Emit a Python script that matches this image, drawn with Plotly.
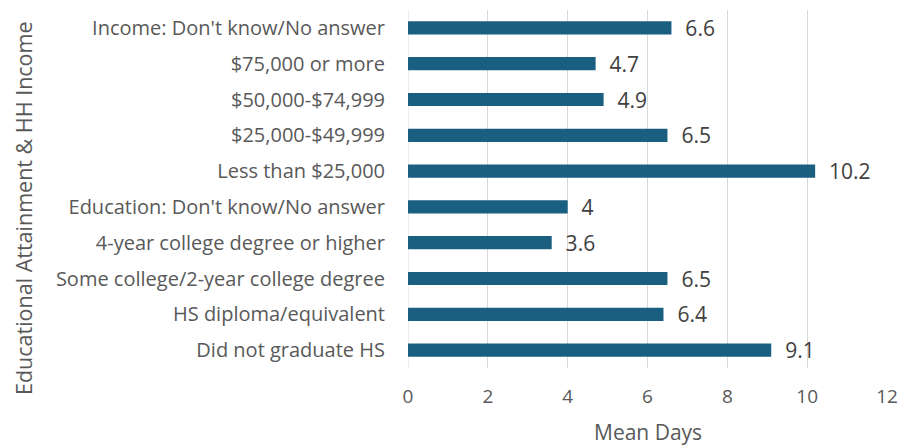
import plotly.graph_objects as go

categories = [
    "Did not graduate HS",
    "HS diploma/equivalent",
    "Some college/2-year college degree",
    "4-year college degree or higher",
    "Education: Don't know/No answer",
    "Less than $25,000",
    "$25,000-$49,999",
    "$50,000-$74,999",
    "$75,000 or more",
    "Income: Don't know/No answer",
]
values = [9.1, 6.4, 6.5, 3.6, 4, 10.2, 6.5, 4.9, 4.7, 6.6]
x_ticks = [0, 2, 4, 6, 8, 10, 12]

FONT = "Open Sans"
GRAY = "#595959"
W, H = 911, 448
L, R, T, B = 408, 24, 10, 80

fig = go.Figure()
fig.add_trace(go.Bar(
    x=values, y=categories, orientation="h",
    marker=dict(color="#1a5f80", line=dict(width=0)),
    text=[f"{v:g}" for v in values],
    texttemplate="  %{text}",
    textposition="outside",
    constraintext="none",
    textfont=dict(family=FONT, size=21, color="#404040"),
    cliponaxis=False,
    width=0.37,
))

fig.update_layout(
    width=W, height=H,
    margin=dict(l=L, r=R, t=T, b=B),
    plot_bgcolor="white", paper_bgcolor="white",
    showlegend=False,
    font=dict(family=FONT, color=GRAY, size=18),
    xaxis=dict(
        range=[0, 12], tickvals=x_ticks, showgrid=True, gridcolor="#d9d9d9", gridwidth=1,
        zeroline=False, showline=False, automargin=False,
        tickfont=dict(family=FONT, size=19, color=GRAY),
        ticks="", ticklabelstandoff=15,
    ),
    yaxis=dict(
        categoryorder="array", categoryarray=categories,
        showgrid=False, zeroline=False, showline=False, automargin=False,
        tickfont=dict(family=FONT, size=20, color=GRAY),
        ticks="", ticklabelstandoff=22,
    ),
    annotations=[
        dict(text="Mean Days", xref="paper", yref="paper",
             x=(648 - L) / (W - L - R), y=-(432 - (H - B)) / (H - T - B),
             xanchor="center", yanchor="middle", showarrow=False,
             font=dict(family=FONT, size=21, color=GRAY)),
        dict(text="Educational Attainment & HH Income", xref="paper", yref="paper",
             x=-(L - 23) / (W - L - R), y=1 - (208 - T) / (H - T - B),
             xanchor="center", yanchor="middle",
             textangle=-90, showarrow=False, font=dict(family=FONT, size=21.5, color=GRAY)),
    ],
)
fig.add_shape(type="line", xref="x", yref="paper", x0=0, x1=0, y0=0, y1=1,
              line=dict(color="#d9d9d9", width=1), layer="below")

fig.write_html("out.html", config={"displayModeBar": False},
               post_script="document.body.style.margin='0';")
